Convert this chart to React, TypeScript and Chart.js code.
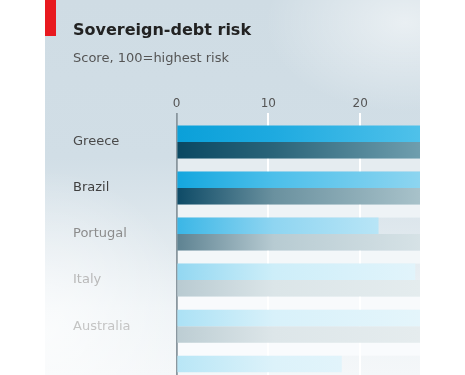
import React, { useEffect, useRef } from "react";
import { Chart, registerables } from "chart.js";

Chart.register(...registerables);

// ---- data ----
const countries = ["Greece", "Brazil", "Portugal", "Italy", "Australia", ""];
const scoreSeriesA = [31, 30, 22, 26, 29, 18];
const scoreSeriesB = [30, 29, 28, 29, 30, 0];
const xTicks = [0, 10, 20, 30];

// ---- styles (per row fade) ----
const cyanLeft = ["#0aa0d9", "#14a6de", "#3ab6e6", "#92d7f1", "#abe1f5", "#b8e6f6"];
const cyanMid = ["#1eaae0", "#4cbfea", "#8fd5f1", "#cdeef9", "#d8f1fa", "#dcf2fa"];
const cyanRight = ["#4fc1ea", "#8dd5f0", "#c8ebf8", "#e2f4fb", "#e4f5fb", "#e8f6fc"];
const darkLeft = ["#0a4862", "#0d4a66", "#5d8291", "#b8cad1", "#bccdd3", "#c8d6db"];
const darkMid = ["#2a6479", "#6a919f", "#b7cbd2", "#dbe5e8", "#dde6e9", "#e2eaec"];
const darkRight = ["#6f9eae", "#a8c2ca", "#d6e2e6", "#e4ecee", "#e5ecee", "#e8eef0"];
const labelColors = ["#4a4a4a", "#404040", "#8c8c8c", "#b9b9b9", "#c4c4c4", "#cccccc"];
const gapColors = ["#e5ecf0", "#eef3f6", "#f3f7f9", "#f8fafc", "#f9fbfd", "#fafcfd"];

const CAT_PCT = 0.717;
const FONT = "'DejaVu Sans', sans-serif";

function makeGradient(chart: any, i: number, l: string[], m: string[], r: string[]) {
  const xs = chart.scales?.x;
  if (!xs || !chart.chartArea) return l[i];
  const x0 = xs.getPixelForValue(0);
  const x1 = xs.getPixelForValue(26.5);
  const g = chart.ctx.createLinearGradient(x0, 0, x1, 0);
  g.addColorStop(0, l[i]);
  g.addColorStop(0.4, m[i]);
  g.addColorStop(1, r[i]);
  return g;
}

const gapPlugin = {
  id: "gapBands",
  beforeDraw(chart: any) {
    const { ctx, chartArea, scales } = chart;
    const y = scales.y;
    if (!y) return;
    const step = y.getPixelForValue(1) - y.getPixelForValue(0);
    const half = (step * CAT_PCT) / 2;
    ctx.save();
    for (let i = 0; i < countries.length; i++) {
      const c = y.getPixelForValue(i);
      ctx.fillStyle = gapColors[i];
      ctx.fillRect(chartArea.left, c + half, chartArea.right - chartArea.left + 20, step - 2 * half);
    }
    ctx.restore();
  },
};

export default function App() {
  const ref = useRef<HTMLCanvasElement | null>(null);
  useEffect(() => {
    if (!ref.current) return;
    const chart = new Chart(ref.current, {
      type: "bar",
      data: {
        labels: countries,
        datasets: [
          {
            label: "A",
            data: scoreSeriesA,
            backgroundColor: (c: any) => makeGradient(c.chart, c.dataIndex, cyanLeft, cyanMid, cyanRight),
            borderWidth: 0,
            barPercentage: 1,
            categoryPercentage: CAT_PCT,
          },
          {
            label: "B",
            data: scoreSeriesB,
            backgroundColor: (c: any) => makeGradient(c.chart, c.dataIndex, darkLeft, darkMid, darkRight),
            borderWidth: 0,
            barPercentage: 1,
            categoryPercentage: CAT_PCT,
          },
        ],
      },
      options: {
        indexAxis: "y",
        responsive: false,
        animation: false,
        layout: { padding: { left: 28, top: 95, right: 13, bottom: 5 } },
        plugins: { legend: { display: false }, tooltip: { enabled: false } },
        scales: {
          x: {
            position: "top",
            min: 0,
            max: 30,
            afterBuildTicks: (s: any) => {
              s.ticks = xTicks.map((v) => ({ value: v }));
            },
            afterFit: (s: any) => {
              s.height = 24;
            },
            border: { display: false },
            grid: {
              color: (c: any) => (c.tick && c.tick.value === 0 ? "#8a979f" : "#ffffff"),
              tickColor: (c: any) => (c.tick && c.tick.value === 0 ? "#8a979f" : "#ffffff"),
              lineWidth: (c: any) => (c.tick && c.tick.value === 0 ? 1.8 : 2),
              tickLength: 6,
              drawTicks: true,
            },
            ticks: {
              padding: 2,
              color: "#555555",
              font: { family: FONT, size: 12 },
            },
          },
          y: {
            afterFit: (s: any) => {
              s.width = 103.5;
            },
            border: { display: false },
            grid: { display: false },
            ticks: {
              crossAlign: "far",
              color: (c: any) => labelColors[c.index] || "#ccc",
              font: { family: FONT, size: 13 },
            },
          },
        },
      },
      plugins: [gapPlugin],
    });
    return () => chart.destroy();
  }, []);

  return (
    <div
      style={{
        position: "fixed",
        left: 0,
        top: 0,
        width: 465,
        height: 375,
        background: "#ffffff",
        overflow: "hidden",
      }}
    >
      <div
        style={{
          position: "absolute",
          left: 45,
          top: 0,
          width: 375,
          height: 375,
          overflow: "hidden",
          background:
            "radial-gradient(ellipse 140px 90px at 96% 6%, rgba(255,255,255,0.55), rgba(255,255,255,0) 100%)," +
            "radial-gradient(ellipse 150px 160px at 0% 88%, rgba(255,255,255,0.7), rgba(255,255,255,0) 100%)," +
            "linear-gradient(to bottom, #cfdce4 0%, #d1dee6 42%, #e2eaef 66%, #eef3f6 82%, #f4f7f9 100%)",
        }}
      >
        <canvas
          ref={ref}
          width={420}
          height={406}
          style={{ position: "absolute", left: 0, top: 0, width: 420, height: 406 }}
        />
        <div style={{ position: "absolute", left: 0, top: 0, width: 11, height: 36, background: "#e8191f" }} />
        <div
          style={{
            position: "absolute",
            left: 28,
            top: 21.5,
            fontFamily: FONT,
            fontWeight: "bold",
            fontSize: 16,
            lineHeight: "16px",
            color: "#222222",
            whiteSpace: "nowrap",
          }}
        >
          Sovereign-debt risk
        </div>
        <div
          style={{
            position: "absolute",
            left: 28,
            top: 50.5,
            fontFamily: FONT,
            fontSize: 13,
            lineHeight: "13px",
            color: "#555555",
            whiteSpace: "nowrap",
          }}
        >
          Score, 100=highest risk
        </div>
      </div>
    </div>
  );
}
